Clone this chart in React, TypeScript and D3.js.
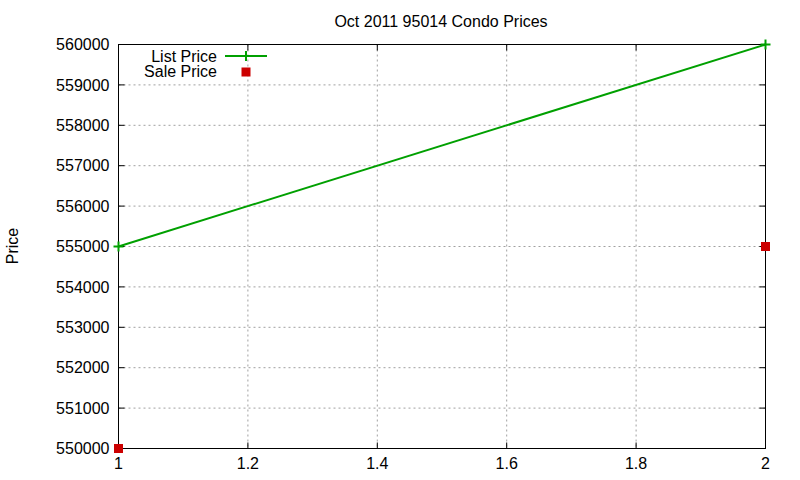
import React from "react";
import * as d3 from "d3";

const xTicks = [1, 1.2, 1.4, 1.6, 1.8, 2];
const yTicks = [550000, 551000, 552000, 553000, 554000, 555000, 556000, 557000, 558000, 559000, 560000];
const listX = [1, 2];
const listPrice = [555000, 560000];
const saleX = [1, 2];
const salePrice = [550000, 555000];
const title = "Oct 2011 95014 Condo Prices";

export default function App() {
  const W = 800, H = 480;
  const L = 118.5, R = 765.5, T = 44.5, B = 448.5;
  const x = d3.scaleLinear().domain([1, 2]).range([L, R]);
  const y = d3.scaleLinear().domain([550000, 560000]).range([B, T]);
  const line = d3.line<number>().x((_, i) => x(listX[i])).y((d) => y(d));
  const font = "'Liberation Sans', Arial, sans-serif";
  const green = "#00a000";
  const red = "#cc0000";
  const tl = 6;
  return (
    <svg width={W} height={H} style={{ position: "absolute", left: 0, top: 0, background: "#fff" }} fontFamily={font} fontSize={16}>
      <rect width={W} height={H} fill="#fff" />
      {/* grid */}
      {xTicks.map((t, i) => (i > 0 && i < xTicks.length - 1) ? (
        <line key={"gx" + i} x1={x(t)} x2={x(t)} y1={T} y2={B} stroke="#a0a0a0" strokeDasharray="2,3" />
      ) : null)}
      {yTicks.map((t, i) => (i > 0 && i < yTicks.length - 1) ? (
        <line key={"gy" + i} x1={L} x2={R} y1={y(t)} y2={y(t)} stroke="#a0a0a0" strokeDasharray="2,3" />
      ) : null)}
      {/* ticks */}
      {yTicks.map((t, i) => (
        <g key={"ty" + i}>
          <line x1={L} x2={L + tl} y1={y(t)} y2={y(t)} stroke="#000" />
          <line x1={R} x2={R - tl} y1={y(t)} y2={y(t)} stroke="#000" />
          <text x={L - 9} y={y(t)} dy="0.35em" textAnchor="end" fill="#000">{t}</text>
        </g>
      ))}
      {xTicks.map((t, i) => (
        <g key={"tx" + i}>
          <line x1={x(t)} x2={x(t)} y1={B} y2={B - tl} stroke="#000" />
          <line x1={x(t)} x2={x(t)} y1={T} y2={T + tl} stroke="#000" />
          <text x={x(t)} y={B + 20} textAnchor="middle" fill="#000">{d3.format("")(t)}</text>
        </g>
      ))}
      <rect x={L} y={T} width={R - L} height={B - T} fill="none" stroke="#000" />
      {/* series */}
      <path d={line(listPrice) || ""} fill="none" stroke={green} strokeWidth={2} />
      {listPrice.map((v, i) => (
        <g key={"lp" + i} stroke={green} strokeWidth={2}>
          <line x1={x(listX[i]) - 5} x2={x(listX[i]) + 5} y1={y(v)} y2={y(v)} />
          <line x1={x(listX[i])} x2={x(listX[i])} y1={y(v) - 5} y2={y(v) + 5} />
        </g>
      ))}
      {salePrice.map((v, i) => (
        <rect key={"sp" + i} x={x(saleX[i]) - 4.5} y={y(v) - 4.5} width={9} height={9} fill={red} />
      ))}
      {/* legend */}
      <text x={217} y={56} dy="0.35em" textAnchor="end" fill="#000">List Price</text>
      <line x1={225} x2={267} y1={56} y2={56} stroke={green} strokeWidth={2} />
      <line x1={241} x2={251} y1={56} y2={56} stroke={green} strokeWidth={2} />
      <line x1={246} x2={246} y1={51} y2={61} stroke={green} strokeWidth={2} />
      <text x={217} y={71} dy="0.35em" textAnchor="end" fill="#000">Sale Price</text>
      <rect x={241.5} y={67.5} width={9} height={9} fill={red} />
      {/* titles */}
      <text x={441} y={21} dy="0.35em" textAnchor="middle" fill="#000">{title}</text>
      <text transform={`translate(12,246) rotate(-90)`} dy="0.35em" textAnchor="middle" fill="#000">Price</text>
    </svg>
  );
}
